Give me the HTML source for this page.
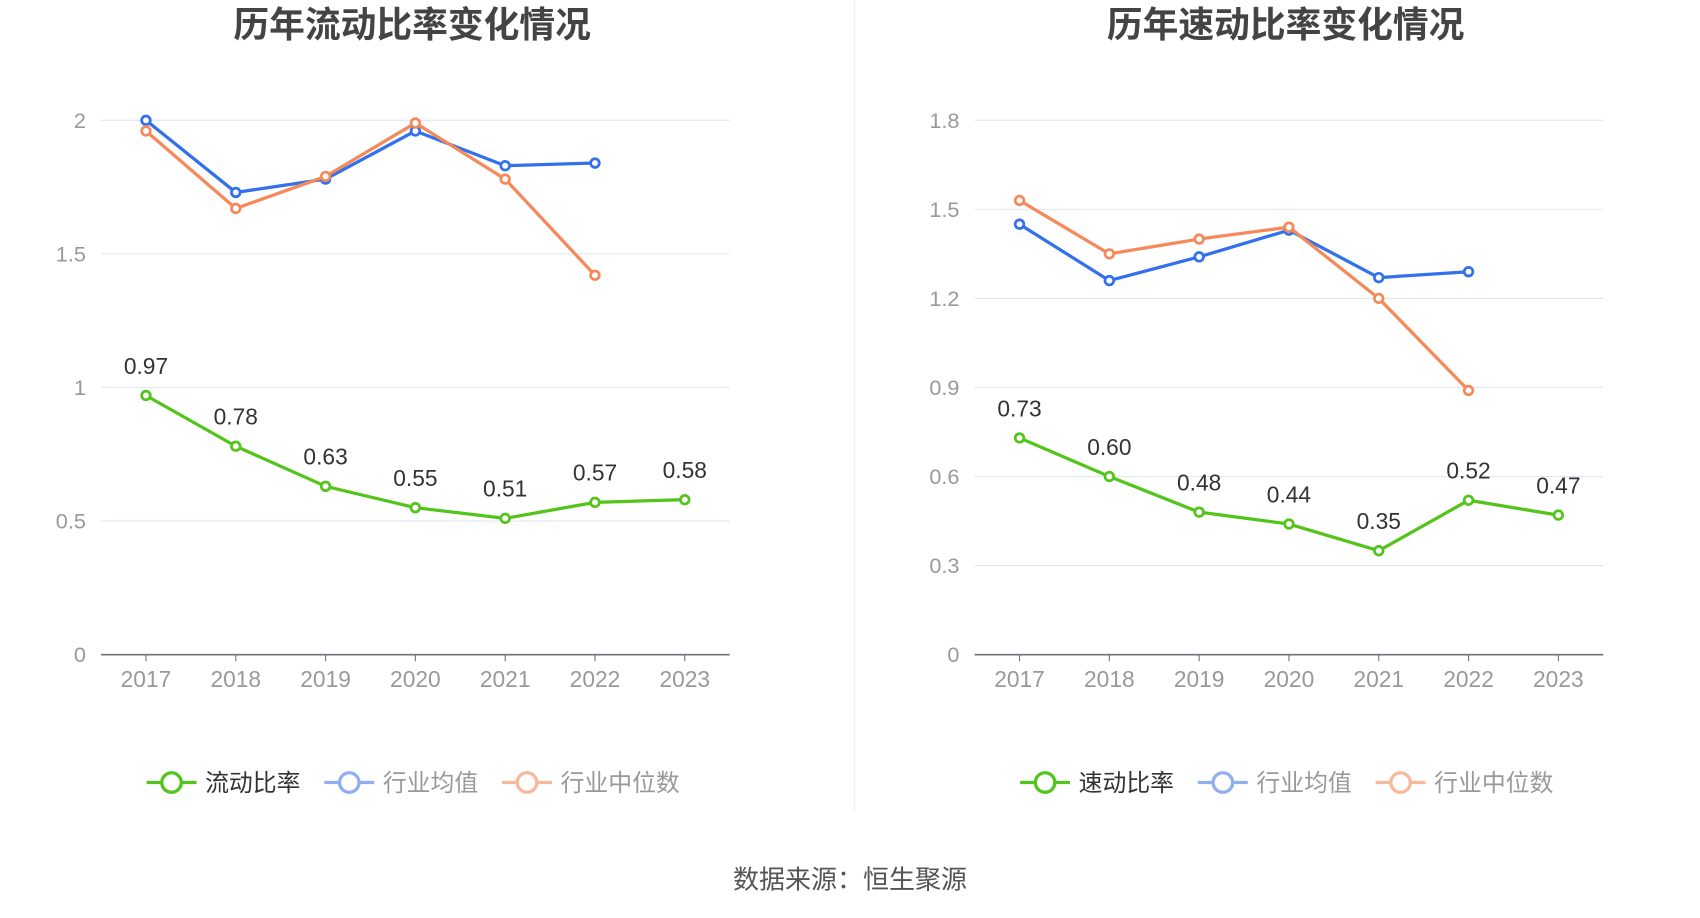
<!DOCTYPE html>
<html><head><meta charset="utf-8"><style>
html,body{margin:0;padding:0;background:#fff;}
svg{display:block;font-family:"Liberation Sans","Noto Sans CJK SC",sans-serif;}
</style></head><body>
<svg id="s" width="1700" height="918" viewBox="0 0 1568 847">
<line x1="788" y1="0" x2="788" y2="750" stroke="#eee" stroke-width="1"/>
<text x="784" y="820" text-anchor="middle" font-size="24" fill="#555">数据来源：恒生聚源</text>
</svg>
<script>
const years=['2017','2018','2019','2020','2021','2022','2023'];
const curRatio=[0.97,0.78,0.63,0.55,0.51,0.57,0.58];
const curAvg=[2.00,1.73,1.78,1.96,1.83,1.84];
const curMed=[1.96,1.67,1.79,1.99,1.78,1.42];
const curTicks=[0,0.5,1,1.5,2];
const curTickLabels=['0','0.5','1','1.5','2'];
const quickRatio=[0.73,0.60,0.48,0.44,0.35,0.52,0.47];
const quickAvg=[1.45,1.26,1.34,1.43,1.27,1.29];
const quickMed=[1.53,1.35,1.40,1.44,1.20,0.89];
const quickTicks=[0,0.3,0.6,0.9,1.2,1.5,1.8];
const quickTickLabels=['0','0.3','0.6','0.9','1.2','1.5','1.8'];

const NS='http://www.w3.org/2000/svg';
const svg=document.getElementById('s');
function el(tag,attrs,parent){const e=document.createElementNS(NS,tag);for(const k in attrs)e.setAttribute(k,attrs[k]);(parent||svg).appendChild(e);return e;}
const GREEN='#52c41a',BLUE='#3370eb',ORANGE='#f5895a';

function chart(x0,title,name,main,avg,med,ticks,tickLabels,maxV,prefix){
  const g=el('g',{});
  
  
  const x1=x0+580,yB=604,yT=111;
  const band=(x1-x0)/years.length;
  const xs=i=>x0+band*(i+0.5);
  const ys=v=>yB-(v/maxV)*(yB-yT);
  const t=el('text',{x:(x0+x1)/2-3,y:34,'text-anchor':'middle','font-size':33,'font-weight':'bold',fill:'#444'},g);
  t.textContent=title;
  
  
  ticks.forEach((v,i)=>{
    if(v>0){const l=el('line',{x1:x0,x2:x1,y1:ys(v),y2:ys(v),stroke:'#e0e6f1','stroke-width':1},g);
    
    }
    const tx=el('text',{x:x0-14,y:ys(v)+7,'text-anchor':'end','font-size':20,fill:'#999'},g);
    tx.textContent=tickLabels[i];
    
    
  });
  const ax=el('line',{x1:x0,x2:x1,y1:yB,y2:yB,stroke:'#6e7079','stroke-width':1.5},g);
  
  
  years.forEach((y,i)=>{
    const tk=el('line',{x1:xs(i),x2:xs(i),y1:yB,y2:yB+6,stroke:'#6e7079'},g);
    
    
    const tx=el('text',{x:xs(i),y:yB+30,'text-anchor':'middle','font-size':21,fill:'#999'},g);
    tx.textContent=y;
    
    
  });
  function series(data,color,sname,labels){
    const pts=data.map((v,i)=>xs(i)+','+ys(v)).join(' ');
    const pl=el('polyline',{points:pts,fill:'none',stroke:color,'stroke-width':3,'stroke-linejoin':'round'},g);
    
    
    data.forEach((v,i)=>{
      const c=el('circle',{cx:xs(i),cy:ys(v),r:4,fill:'#fff',stroke:color,'stroke-width':2.5},g);
      
      
      if(labels){
        const tx=el('text',{x:xs(i),y:ys(v)-20,'text-anchor':'middle','font-size':21,fill:'#333'},g);
        tx.textContent=v.toFixed(2);
        
        
      }
    });
  }
  series(avg,BLUE,'industry-average',false);
  series(med,ORANGE,'industry-median',false);
  series(main,GREEN,prefix+'-ratio',true);
  const items=[[name,GREEN,'#333'],['行业均值','#8faff0','#999'],['行业中位数','#f8b89c','#999']];
  let lx=x0+42;
  items.forEach((it,i)=>{
    const lg=el('g',{},g);
    
    
    el('line',{x1:lx,x2:lx+46,y1:722,y2:722,stroke:it[1],'stroke-width':3},lg);
    el('circle',{cx:lx+23,cy:722,r:9,fill:'#fff',stroke:it[1],'stroke-width':3},lg);
    const tx=el('text',{x:lx+54,y:730,'font-size':22,fill:it[2]},lg);
    tx.textContent=it[0];
    lx+=164;
  });
}
chart(93,'历年流动比率变化情况','流动比率',curRatio,curAvg,curMed,curTicks,curTickLabels,2,'current');
chart(899,'历年速动比率变化情况','速动比率',quickRatio,quickAvg,quickMed,quickTicks,quickTickLabels,1.8,'quick');
</script>
</body></html>
